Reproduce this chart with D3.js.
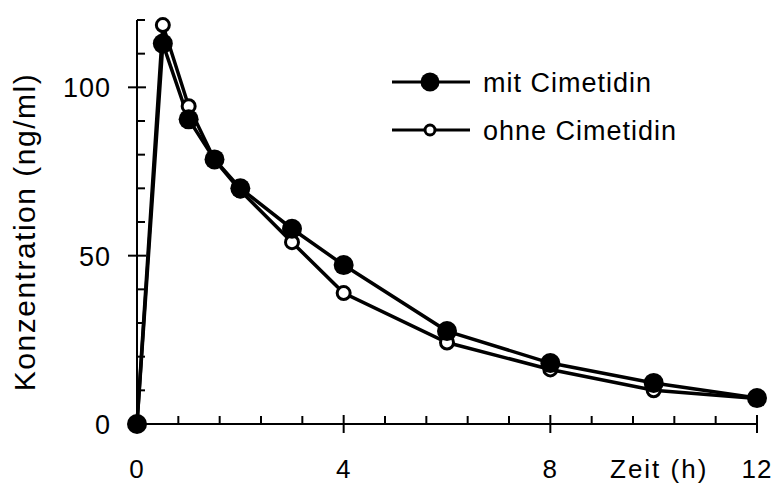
<!DOCTYPE html>
<html>
<head>
<meta charset="utf-8">
<script src="https://cdn.jsdelivr.net/npm/d3@7"></script>
<style>
  body { margin: 0; background: #fff; }
  text { font-family: "Liberation Sans", Arial, sans-serif; fill: #000; }
</style>
</head>
<body>
<script>
// data
let zeit = [0, 0.5, 1, 1.5, 2, 3, 4, 6, 8, 10, 12];
let mitCimetidin = [0, 113, 90.5, 78.6, 70, 58, 47.2, 27.6, 18.1, 12.2, 7.7];
let ohneCimetidin = [0, 118.5, 94.4, 78.5, 69.3, 54, 38.9, 24.2, 16.2, 10, 7.6];
let xTicks = [0, 4, 8, 12];
let yTicks = [0, 50, 100];
let legendLabels = ["mit Cimetidin", "ohne Cimetidin"];

let W = 775, H = 484;

let x = d3.scaleLinear().domain([0, 12]).range([137, 757]);
let y = d3.scaleLinear().domain([0, 120]).range([424, 20]);

let svg = d3.select("body").append("svg")
  .attr("width", W).attr("height", H);

// axes
let axes = svg.append("g").attr("stroke", "#000").attr("stroke-width", 2);

axes.append("line")
  .attr("x1", x(0)).attr("x2", x(12))
  .attr("y1", y(0)).attr("y2", y(0));
axes.append("line")
  .attr("x1", x(0)).attr("x2", x(0))
  .attr("y1", y(0)).attr("y2", y(120));

// minor ticks point inward, major ticks cross the axis
let xMinor = d3.range(0, 12.001, 0.8).filter(t => xTicks.indexOf(Math.round(t * 10) / 10) < 0);
axes.selectAll(".xminor").data(xMinor).enter().append("line")
  .attr("x1", d => x(d)).attr("x2", d => x(d))
  .attr("y1", y(0)).attr("y2", y(0) - 8);
axes.selectAll(".xmajor").data(xTicks).enter().append("line")
  .attr("x1", d => x(d)).attr("x2", d => x(d))
  .attr("y1", y(0) - 9).attr("y2", y(0) + 9);

let yMinor = d3.range(10, 121, 10).filter(v => yTicks.indexOf(v) < 0);
axes.selectAll(".yminor").data(yMinor).enter().append("line")
  .attr("x1", x(0)).attr("x2", x(0) + 8)
  .attr("y1", d => y(d)).attr("y2", d => y(d));
axes.selectAll(".ymajor").data(yTicks).enter().append("line")
  .attr("x1", x(0) - 9).attr("x2", x(0) + 9)
  .attr("y1", d => y(d)).attr("y2", d => y(d));

// tick labels
svg.selectAll(".xlab").data(xTicks).enter().append("text")
  .attr("x", d => x(d)).attr("y", 478)
  .attr("text-anchor", "middle")
  .style("font-size", "26px")
  .style("letter-spacing", "1px")
  .text(d => d);

svg.selectAll(".ylab").data(yTicks).enter().append("text")
  .attr("x", 111).attr("y", d => y(d) + 10)
  .attr("text-anchor", "end")
  .style("font-size", "27px")
  .style("letter-spacing", "1px")
  .text(d => d);

svg.append("text")
  .attr("x", 610).attr("y", 478)
  .style("font-size", "26px")
  .style("letter-spacing", "2px")
  .text("Zeit (h)");

svg.append("text")
  .attr("transform", "translate(35, 232) rotate(-90)")
  .attr("text-anchor", "middle")
  .style("font-size", "30px")
  .style("letter-spacing", "1.5px")
  .text("Konzentration (ng/ml)");

// series
let line = d3.line().x(d => x(d[0])).y(d => y(d[1]));
let ohne = zeit.map((t, i) => [t, ohneCimetidin[i]]);
let mit = zeit.map((t, i) => [t, mitCimetidin[i]]);

svg.append("path").datum(ohne).attr("d", line)
  .attr("fill", "none").attr("stroke", "#000").attr("stroke-width", 3.5);
svg.append("path").datum(mit).attr("d", line)
  .attr("fill", "none").attr("stroke", "#000").attr("stroke-width", 3.5);

svg.selectAll(".ohne").data(ohne).enter().append("circle")
  .attr("cx", d => x(d[0])).attr("cy", d => y(d[1])).attr("r", 6.5)
  .attr("fill", "#fff").attr("stroke", "#000").attr("stroke-width", 3);
svg.selectAll(".mit").data(mit).enter().append("circle")
  .attr("cx", d => x(d[0])).attr("cy", d => y(d[1])).attr("r", 10)
  .attr("fill", "#000");

// legend
let legend = svg.append("g");
legendLabels.forEach((lab, i) => {
  let ly = 82 + i * 48;
  let g = legend.append("g");
  g.append("line").attr("x1", 392).attr("x2", 470).attr("y1", ly).attr("y2", ly)
    .attr("stroke", "#000").attr("stroke-width", 3);
  if (i == 0) {
    g.append("circle").attr("cx", 430).attr("cy", ly).attr("r", 9.5).attr("fill", "#000");
  } else {
    g.append("circle").attr("cx", 430).attr("cy", ly).attr("r", 5)
      .attr("fill", "#fff").attr("stroke", "#000").attr("stroke-width", 3);
  }
  g.append("text").attr("x", 483).attr("y", ly + 9.5)
    .style("font-size", "27px")
    .style("letter-spacing", "1px")
    .text(lab);
});
</script>
</body>
</html>
